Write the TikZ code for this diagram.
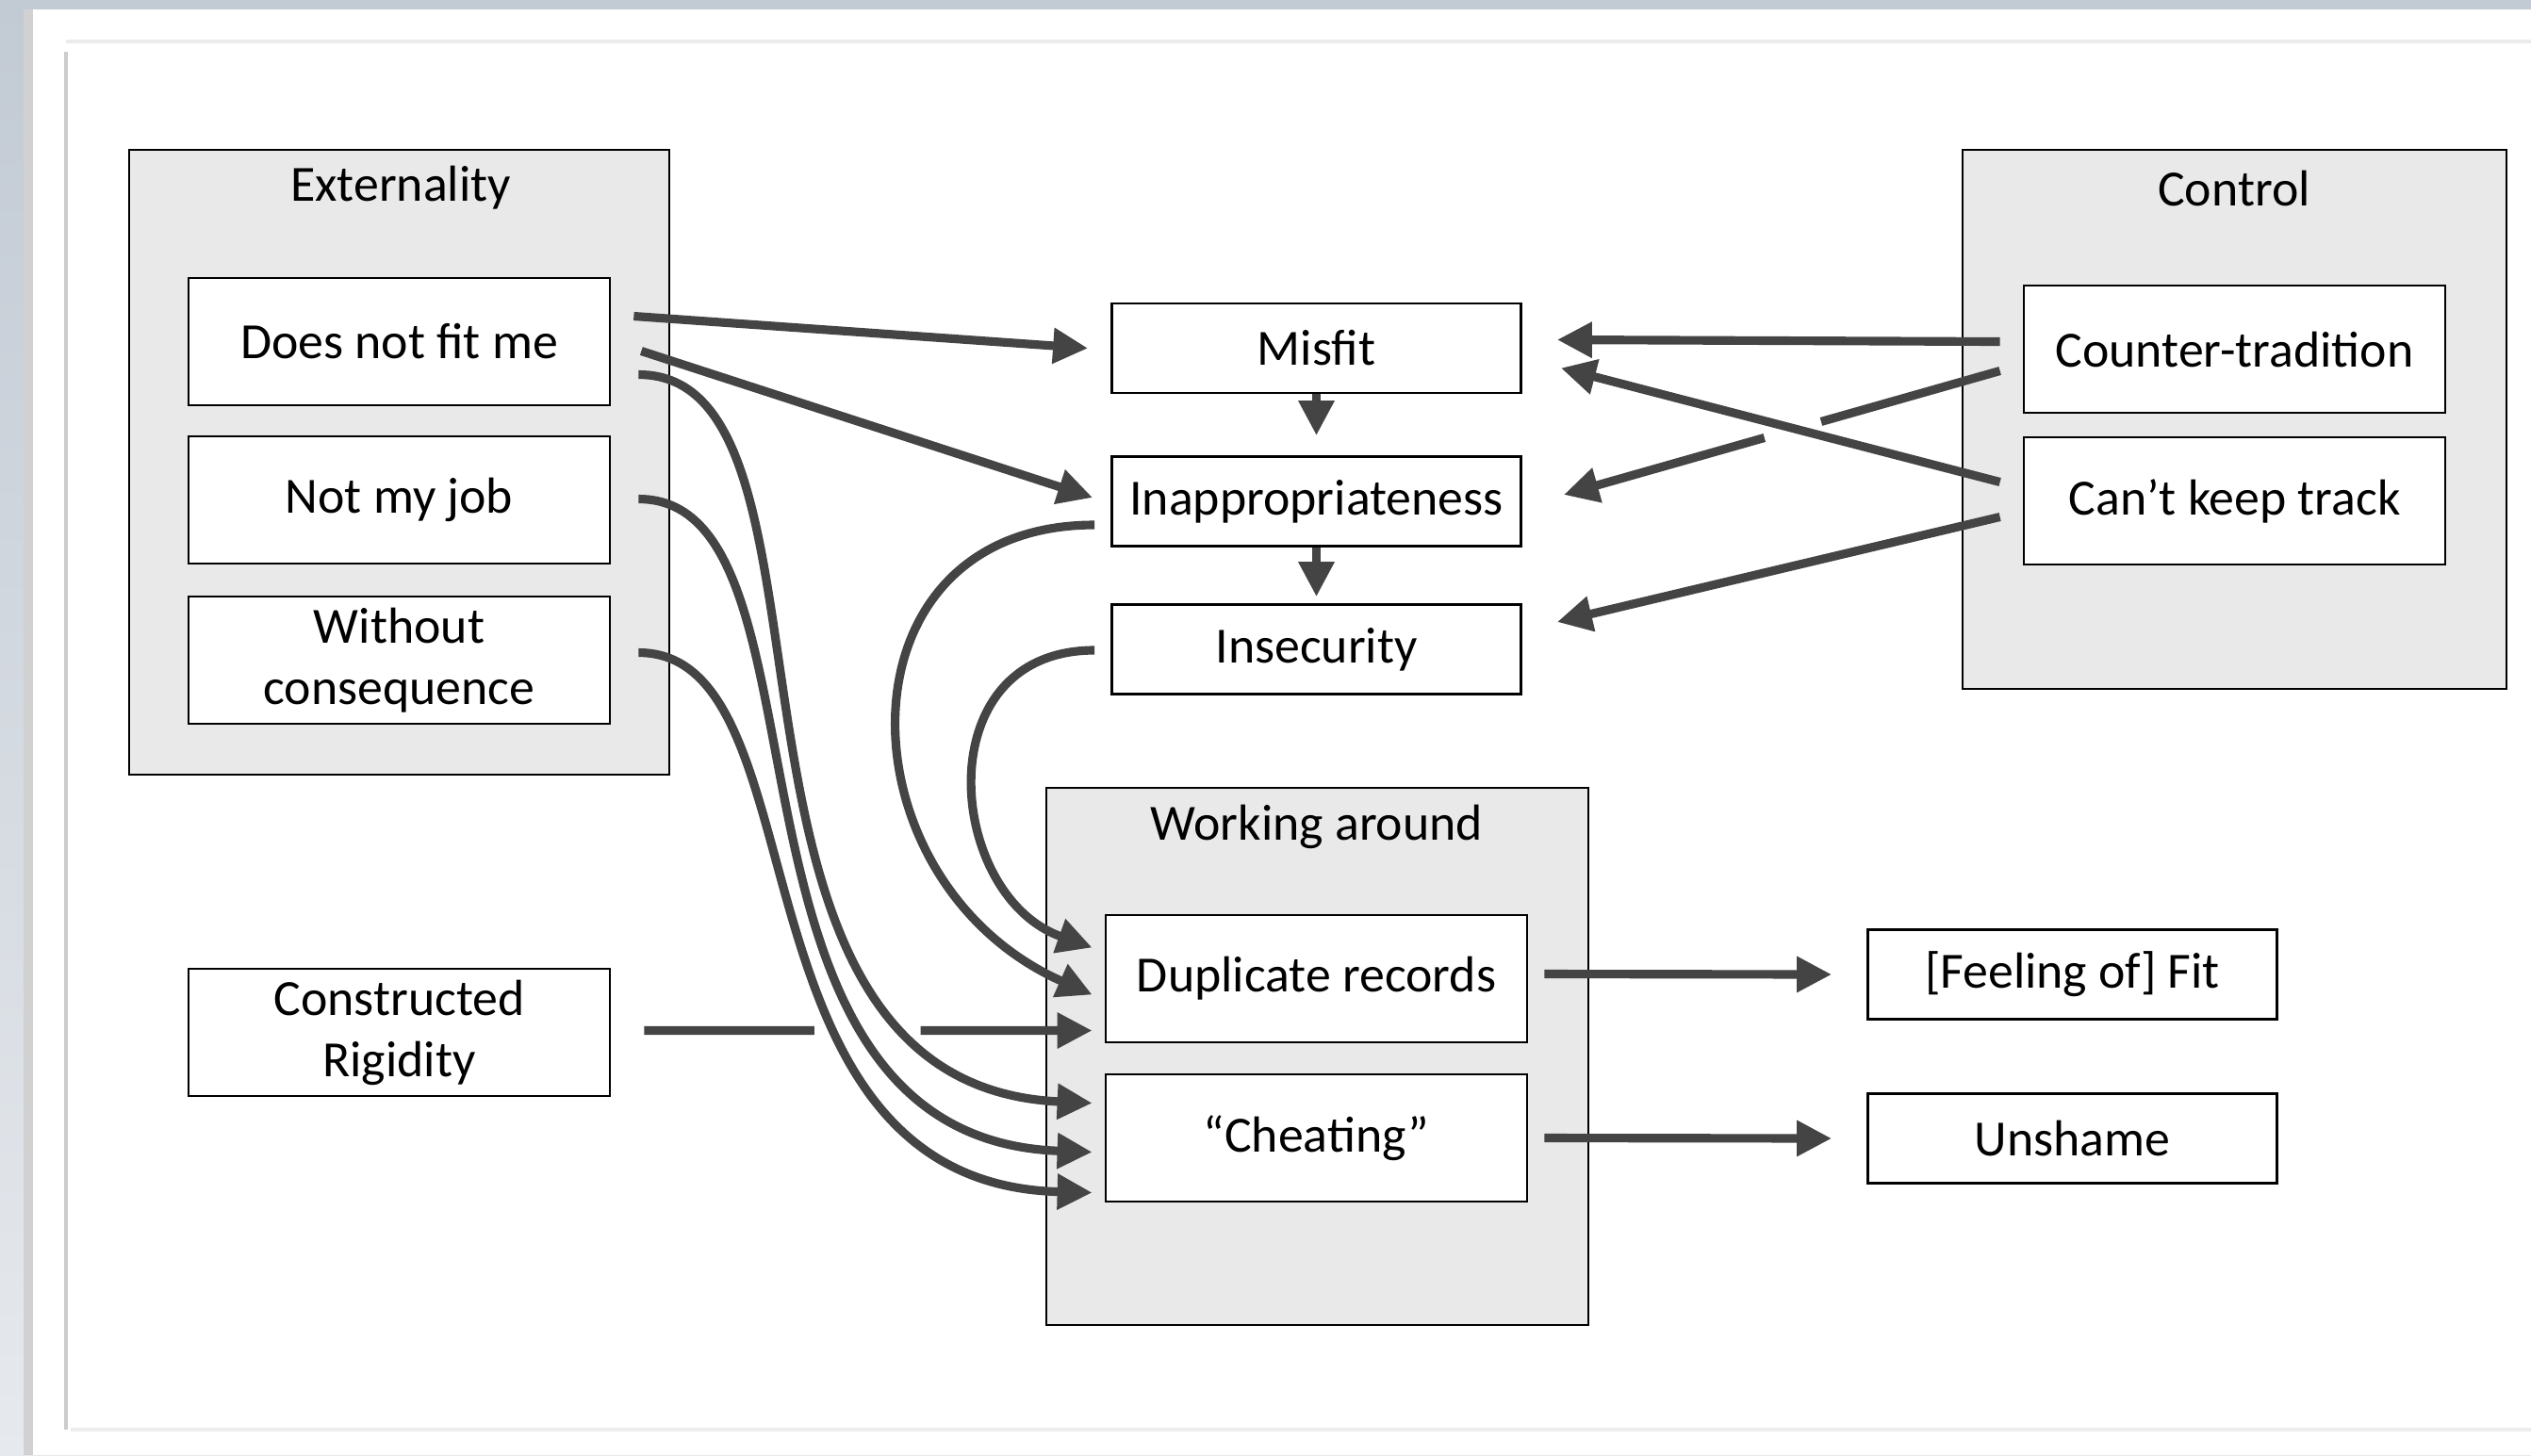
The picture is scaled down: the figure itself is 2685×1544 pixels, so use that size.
\documentclass[tikz,border=0pt]{standalone}
\usepackage{fontspec}
\setmainfont{Carlito}
\usetikzlibrary{arrows.meta,calc}
\definecolor{fleche}{HTML}{444444}
\definecolor{fondgris}{HTML}{E9E9E9}
\definecolor{ciel}{HTML}{C2CAD4}
\definecolor{cielbas}{HTML}{E6E9ED}

\begin{document}
\begin{tikzpicture}[x=0.01cm,y=-0.01cm,
  texte/.style={font=\fontsize{15.3}{18.5}\selectfont, align=center},
  boite/.style={texte, draw=black, line width=0.7pt, fill=white, inner sep=0pt,
                minimum width=4.47cm, minimum height=1.35cm},
  petite/.style={boite, minimum width=4.34cm, minimum height=0.95cm},
  groupe/.style={draw=black, line width=0.8pt, fill=fondgris},
  trait/.style={draw=fleche, line width=2.6pt},
  fl/.style={trait, -{Triangle[length=0.37cm,width=0.36cm]}}]

\useasboundingbox (0,0) rectangle (2685,1544);

% le fond de la diapositive
\shade[top color=ciel, bottom color=cielbas] (0,0) rectangle (2685,1544);
\fill[black!18] (25,10) rectangle (35,1544);
\fill[white] (35,10) rectangle (2685,1544);
\draw[black!8, line width=1pt] (70,44) -- (2685,44);
\draw[black!20, line width=1pt] (70,55) -- (70,1517);
\draw[black!7, line width=1pt] (75,1517) -- (2685,1517);

% les trois cadres gris
\draw[groupe] (137,159) rectangle (710,822);
\node[texte] (text) at (425,199) {Externality};

\draw[groupe] (2082,159) rectangle (2659,731);
\node[texte] (tctrl) at (2370,200) {Control};

\draw[groupe] (1110,836) rectangle (1685,1406);
\node[texte] (twork) at (1397,877) {Working around};

% les boites
\node[boite] (dnfm) at (423.5,362.5) {Does not fit me};
\node[boite] (nmj) at (423.5,530.5) {Not my job};
\node[boite] (wc) at (423.5,700.5) {Without\\consequence};
\node[boite] (cr) at (423.5,1095.5) {Constructed\\Rigidity};

\node[petite] (misfit) at (1396.5,369.5) {Misfit};
\node[petite] (inapp) at (1396.5,532) {Inappropriateness};
\node[petite] (insec) at (1396.5,689) {Insecurity};

\node[boite] (dup) at (1396.5,1038.5) {Duplicate records};
\node[boite] (cheat) at (1396.5,1207.5) {``Cheating''};

\node[petite] (fit) at (2198.5,1034) {[Feeling of] Fit};
\node[petite] (unshame) at (2198.5,1208) {Unshame};

\node[boite] (ct) at (2370.5,370.5) {Counter-tradition};
\node[boite] (ckt) at (2370.5,531.5) {Can’t keep track};

% fleches droites
\draw[fl] ($(dnfm.east)+(24,-27)$) -- ($(misfit.west)+(-24,0)$);
\draw[fl] ($(dnfm.east)+(32,10)$) -- ($(inapp.west)+(-19,-4)$);
\draw[fl, shorten >=6] (misfit.south) -- (inapp.north);
\draw[fl, shorten >=2] (inapp.south) -- (insec.north);
\draw[fl] ($(dup.east)+(17,-5)$) -- ($(fit.west)+(-37,0)$);
\draw[fl] ($(cheat.east)+(17,0)$) -- ($(unshame.west)+(-37,0)$);

% depuis Control
\draw[fl] ($(ct.west)+(-24,-8)$) -- ($(misfit.east)+(37,-9)$);
\coordinate (ctb) at ($(ct.west)+(-24,23)$);
\coordinate (inappE) at ($(inapp.east)+(44,-7)$);
\draw[trait] (ctb) -- ($(ctb)!0.41!(inappE)$);
\draw[fl] ($(ctb)!0.54!(inappE)$) -- (inappE);
\draw[fl] ($(ckt.west)+(-24,-20)$) -- ($(misfit.east)+(41,21)$);
\draw[fl] ($(ckt.west)+(-24,17)$) -- ($(insec.east)+(37,-29)$);

% Constructed Rigidity, coupee par les courbes
\coordinate (cra) at ($(cr.east)+(35,-2)$);
\coordinate (dupc) at ($(dup.west)+(-13,55)$);
\draw[trait] (cra) -- ($(cra)!0.38!(dupc)$);
\draw[fl] ($(cra)!0.617!(dupc)$) -- (dupc);

% les courbes
\draw[fl] ($(insec.west)+(-17,1)$) .. controls +(-180,0) and +(-155,-55) .. ($(dup.west)+(-13,-33)$);
\draw[fl] ($(inapp.west)+(-17,25)$) .. controls +(-280,0) and +(-270,-120) .. ($(dup.west)+(-13,17)$);
\draw[fl] ($(dnfm.east)+(29,35)$) .. controls +(240,0) and +(-443,-20) .. ($(cheat.west)+(-13,-37)$);
\draw[fl] ($(nmj.east)+(29,-1)$) .. controls +(220,0) and +(-425,-15) .. ($(cheat.west)+(-13,15)$);
\draw[fl] ($(wc.east)+(29,-8)$) .. controls +(200,0) and +(-395,-10) .. ($(cheat.west)+(-13,58)$);

\end{tikzpicture}
\end{document}
